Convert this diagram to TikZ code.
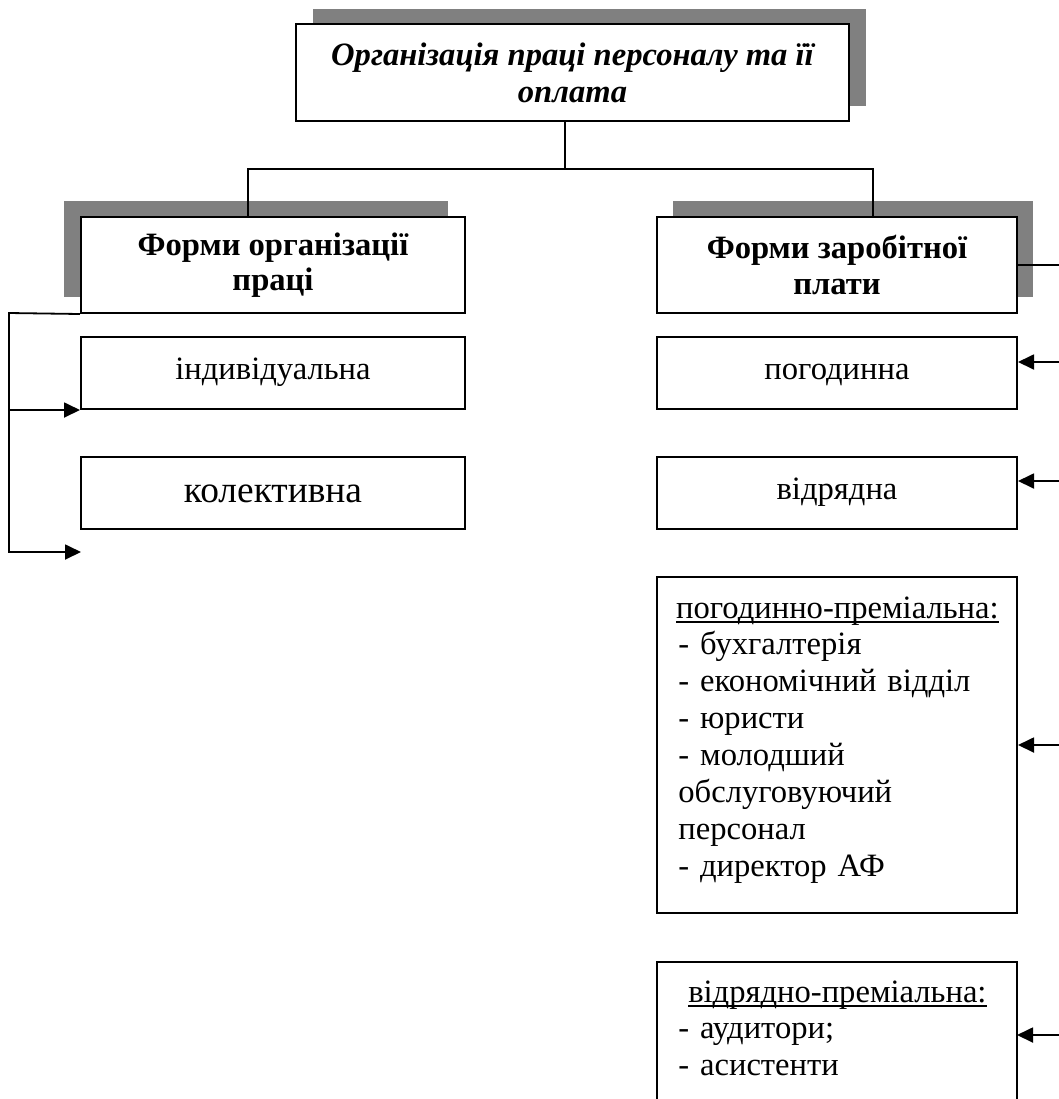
\documentclass[tikz,border=0pt]{standalone}
\usepackage{fontspec}
\setmainfont{Liberation Serif}
\usetikzlibrary{arrows.meta,shadows}
\definecolor{shade}{HTML}{808080}
% underlined heading text
\newcommand\ulined[1]{\setbox0\hbox{#1}\rlap{\rule[-2.3pt]{\wd0}{0.8pt}}\box0}
\tikzset{
  frame/.style={draw=black, line width=1pt, fill=white, inner sep=0pt, align=center,
    font=\fontsize{16.3}{17.6}\selectfont},
  titlebox/.style={frame, font=\fontsize{16.3}{18.5}\selectfont\bfseries\itshape},
  headbox/.style={frame, font=\fontsize{16.3}{17.6}\selectfont\bfseries},
  wide/.style={minimum width=192pt},
  narrow/.style={minimum width=180pt},
  lowbox/.style={minimum height=36pt, text height=11pt, text depth=4.5pt},
  listtext/.style={anchor=base west, inner sep=0pt, text width=159pt, align=left,
    font=\fontsize{16.3}{18.45}\selectfont},
  wire/.style={line width=0.9pt},
  arrowwire/.style={wire, -{Triangle[length=8pt,width=7.5pt]}},
}
\begin{document}
\begin{tikzpicture}[x=0.5pt,y=-0.5pt]
\clip (0,0) rectangle (1059,1099);
\fill[white] (0,0) rectangle (1059,1099);

% heading boxes with offset grey shadows
\node[titlebox, minimum width=276.5pt, minimum height=48.5pt,
  drop shadow={shadow xshift=8.5pt, shadow yshift=7.5pt, fill=shade, opacity=1}]
  (top) at (572.5,72.5) {Організація праці персоналу та її\\оплата};
\node[headbox, wide, minimum height=48pt,
  drop shadow={shadow xshift=-8.5pt, shadow yshift=8pt, fill=shade, opacity=1}]
  (lhead) at (273,265) {Форми організації\\праці};
\node[headbox, narrow, minimum height=48pt,
  drop shadow={shadow xshift=8pt, shadow yshift=8pt, fill=shade, opacity=1}]
  (rhead) at (837,265) {Форми заробітної\\плати};

% forms of work organisation
\node[frame, wide, lowbox] (indiv) at (273,373) {індивідуальна};
\node[frame, wide, lowbox, text height=12.5pt, text depth=3.5pt,
  font=\fontsize{18.7}{20}\selectfont] (collect) at (273,493) {колективна};

% forms of pay
\node[frame, narrow, lowbox] (hourly) at (837,373) {погодинна};
\node[frame, narrow, lowbox] (piece) at (837,493) {відрядна};
\node[frame, narrow, minimum height=168pt] (hbonus) at (837,745) {};
\node[listtext] (hbonusText) at (678,618)
  {\makebox[159pt][c]{\ulined{погодинно-преміальна:}}\\- бухгалтерія\\- економічний відділ\\- юристи\\- молодший\\обслуговуючий\\персонал\\- директор АФ};
\node[frame, narrow, minimum height=73pt] (pbonus) at (837,1035) {};
\node[listtext] (pbonusText) at (678,1002)
  {\makebox[159pt][c]{\ulined{відрядно-преміальна:}}\\- аудитори;\\- асистенти};

% top-level branching
\coordinate (busT) at (565,169);
\coordinate (busL) at (248,169);
\coordinate (busR) at (873,169);
\draw[wire] (top.south -| busT) -- (busT);
\draw[wire] (lhead.north -| busL) -- (busL) -- (busR) -- (rhead.north -| busR);

% left rail
\coordinate (lrail) at (9,313);
\coordinate (lend) at (81,552);
\draw[arrowwire] (lhead.south west) -- (lrail) |- (lend);
\draw[arrowwire] (lrail |- indiv.south) -- (indiv.south west);

% right rail
\coordinate (rrail) at (1075,265);
\coordinate (rrailEnd) at (1075,1099);
\draw[wire] (rhead.east) -- (rrail) -- (rrailEnd);
\coordinate (hIn) at ([yshift=5.5pt]hourly.east);
\coordinate (pIn) at ([yshift=6pt]piece.east);
\coordinate (hbIn) at (hbonus.east);
\coordinate (pbIn) at (1017,1035);
\draw[arrowwire] (hIn -| rrail) -- (hIn);
\draw[arrowwire] (pIn -| rrail) -- (pIn);
\draw[arrowwire] (hbIn -| rrail) -- (hbIn);
\draw[arrowwire] (pbIn -| rrail) -- (pbIn);
\end{tikzpicture}
\end{document}
